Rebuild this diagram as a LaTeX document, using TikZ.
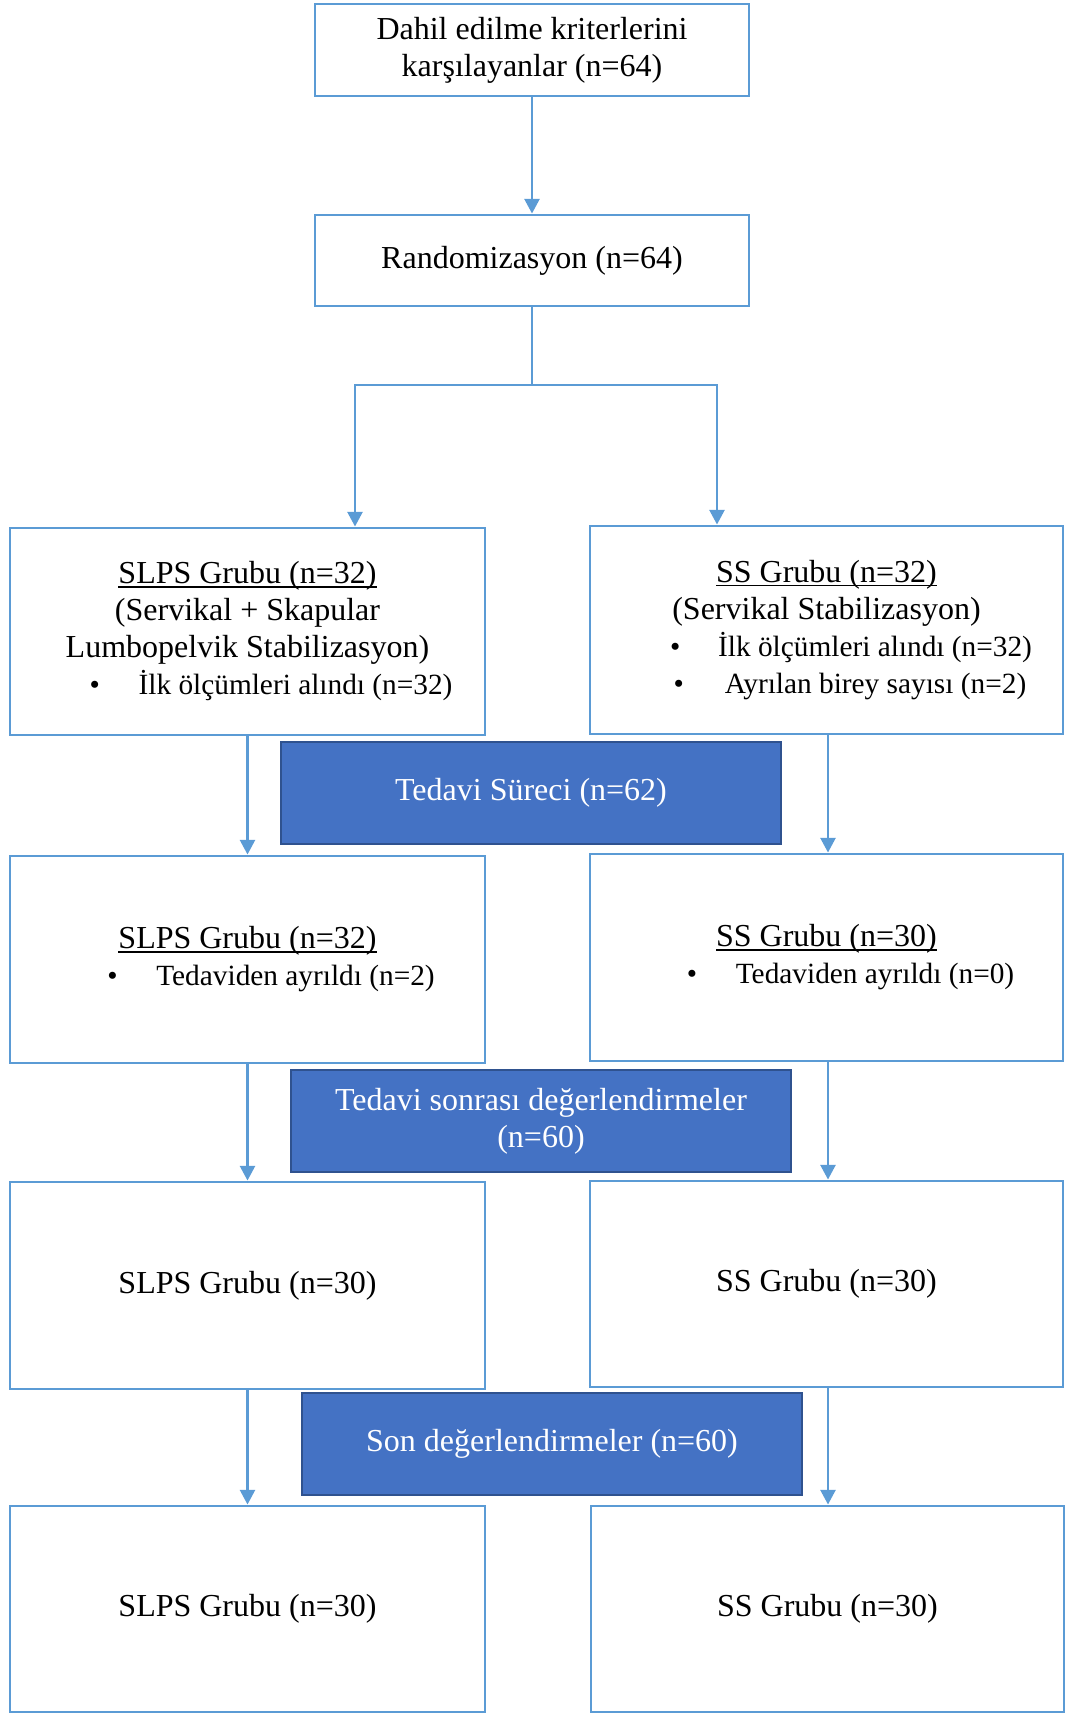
\documentclass[tikz,border=0pt]{standalone}
\usepackage{fontspec}
\setmainfont{Liberation Serif}
\usetikzlibrary{arrows.meta}
\definecolor{lblue}{HTML}{5B9BD5}
\definecolor{fillblue}{HTML}{4472C4}
\definecolor{dblue}{HTML}{2F528F}
\newlength\px
\setlength\px{0.375pt}
\newcommand\bul[1]{\makebox[#1\px][l]{•}}
\newcommand\bline[3]{{\fontsize{11pt}{13.875pt}\selectfont\hspace*{#1\px}\bul{#2}#3}}
\newcommand\ulin[1]{\setbox0\hbox{#1}\rlap{\rule[-4\px]{\wd0}{1.8\px}}\box0}
\begin{document}
\begin{tikzpicture}[x=0.375pt,y=-0.375pt,
  font=\fontsize{12pt}{13.875pt}\selectfont,
  box/.style={draw=lblue,line width=1.1pt,fill=white,rectangle,align=center,inner sep=0pt},
  whitebox/.style={box,minimum width=475\px,minimum height=207\px},
  stagebox/.style={draw=dblue,line width=0.8pt,fill=fillblue,text=white,rectangle,align=center,inner sep=0pt,minimum width=500\px,minimum height=102\px},
  conn/.style={draw=lblue,line width=1pt,-{Triangle[length=5.5pt,width=5.6pt]}}]
\useasboundingbox (0,0) rectangle (1065,1713);

\node[box,minimum width=434\px,minimum height=92\px] (top) at (532,50)
  {Dahil edilme kriterlerini\\karşılayanlar (n=64)};
\node[box,minimum width=434\px,minimum height=91\px] (rand) at (532,260.5)
  {Randomizasyon (n=64)};

\node[whitebox] (L1) at (247.5,631.5)
  {\ulin{SLPS Grubu (n=32)}\\(Servikal + Skapular\\Lumbopelvik Stabilizasyon)\\\bline{47}{49.1}{İlk ölçümleri alındı (n=32)}};
\node[whitebox,minimum width=473\px,minimum height=208\px] (R1) at (826.5,630)
  {\ulin{SS Grubu (n=32)}\\(Servikal Stabilizasyon)\\\bline{49}{48.1}{İlk ölçümleri alındı (n=32)}\\\bline{47}{51.1}{Ayrılan birey sayısı (n=2)}};

\node[stagebox] (st1) at (531,793) {Tedavi Süreci (n=62)};

\node[whitebox] (L2) at (247.5,959.5)
  {\ulin{SLPS Grubu (n=32)}\\\bline{47}{49.1}{Tedaviden ayrıldı (n=2)}};
\node[whitebox,minimum width=473\px] (R2) at (826.5,957.5)
  {\ulin{SS Grubu (n=30)}\\\bline{48}{49.1}{Tedaviden ayrıldı (n=0)}};

\node[stagebox] (st2) at (541,1121) {Tedavi sonrası değerlendirmeler\\(n=60)};

\node[whitebox] (L3) at (247.5,1285.5) {SLPS Grubu (n=30)};
\node[whitebox,minimum width=473\px,minimum height=206\px] (R3) at (826.5,1284) {SS Grubu (n=30)};

\node[stagebox] (st3) at (552,1444) {Son değerlendirmeler (n=60)};

\node[whitebox,minimum height=206\px] (L4) at (247.5,1609) {SLPS Grubu (n=30)};
\node[whitebox,minimum width=473\px,minimum height=206\px] (R4) at (827.5,1609) {SS Grubu (n=30)};

\coordinate (spl) at (355,385);
\coordinate (spr) at (717,385);

\draw[conn] (top) -- (rand);
\draw[conn] (rand.south) |- (spl) -- (spl |- L1.north);
\draw[conn] (rand.south) |- (spr) -- (spr |- R1.north);

\draw[conn] (L1.south) -- (L2.north);
\draw[conn] ([xshift=1.5\px]R1.south) -- ([xshift=1.5\px]R1.south |- R2.north);
\draw[conn] (L2.south) -- (L3.north);
\draw[conn] ([xshift=1.5\px]R2.south) -- ([xshift=1.5\px]R2.south |- R3.north);
\draw[conn] (L3.south) -- (L4.north);
\draw[conn] ([xshift=1.5\px]R3.south) -- ([xshift=1.5\px]R3.south |- R4.north);
\end{tikzpicture}
\end{document}
